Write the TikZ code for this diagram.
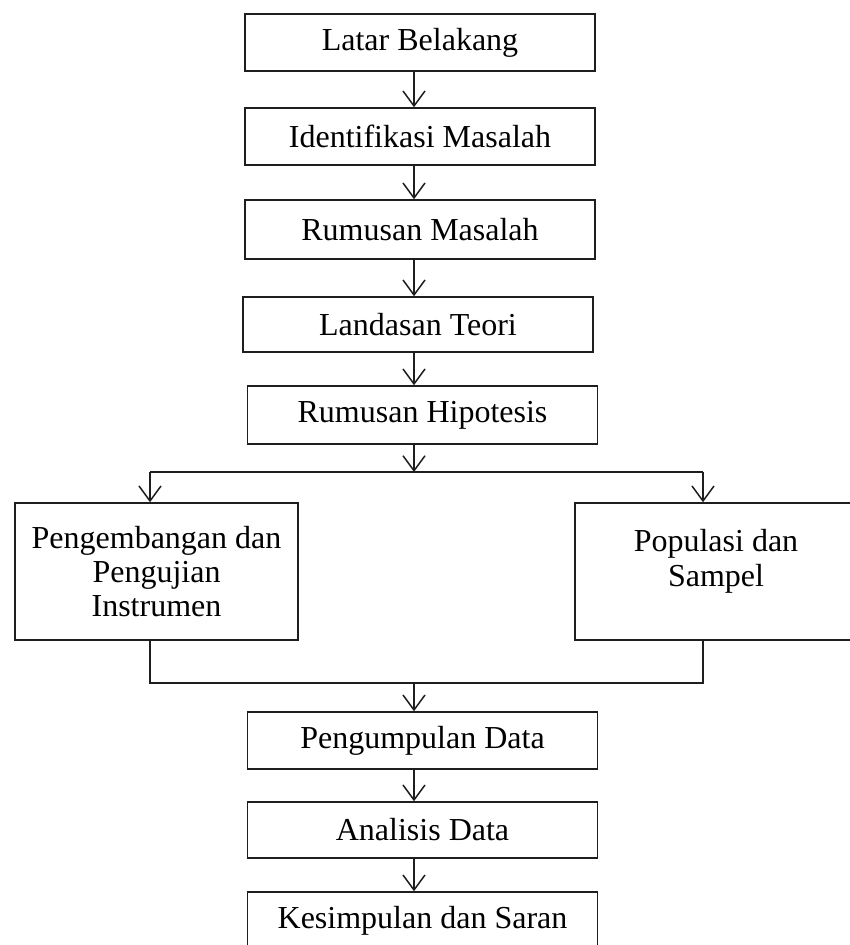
\documentclass[tikz,border=0pt]{standalone}
\usepackage{fontspec}
\setmainfont{Liberation Serif}
\usetikzlibrary{arrows.meta}
\definecolor{linec}{HTML}{1E1E1E}
\begin{document}
\begin{tikzpicture}[x=1pt,y=-1pt,
  box/.style={draw=linec, line width=1.5pt, minimum height=57pt, minimum width=350pt, inner sep=0pt, font=\fontsize{32}{34}\selectfont, align=center, text=black},
  txt/.style={inner sep=0pt, font=\fontsize{32}{35}\selectfont, align=center, text=black},
  arr/.style={draw=linec, line width=1.5pt, -{Straight Barb[length=15pt,width=22pt,line width=1.5pt]}},
  ln/.style={draw=linec, line width=1.5pt}]
\fill[white] (0,0) rectangle (850,945);
\useasboundingbox (0,0) rectangle (850,945);

\node[box] (b1) at (420,42.5) {Latar Belakang};
\node[box] (b2) at (420,136.5) {Identifikasi Masalah};
\node[box, minimum height=59pt] (b3) at (420,229.5) {Rumusan Masalah};
\node[box, minimum height=55pt] (b4) at (418,324.5) {Landasan Teori};
\node[box, minimum height=58pt] (b5) at (422.5,415) {Rumusan Hipotesis};
\node[box, minimum width=283pt, minimum height=137pt] (b6) at (156.5,571.5) {Pengembangan dan\\Pengujian\\Instrumen};
\node[box, minimum width=277pt, minimum height=137pt] (b7) at (713.5,571.5) {};
\node[txt] (b7t) at (716,561) {Populasi dan\\Sampel};
\node[box] (b8) at (422.5,740.5) {Pengumpulan Data};
\node[box, minimum height=56pt] (b9) at (422.5,830) {Analisis Data};
\node[box, minimum height=58pt] (b10) at (422.5,921) {Kesimpulan dan Saran};

\coordinate (ax) at (414,0);
\coordinate (bl) at (150,472);
\coordinate (brr) at (703,472);
\coordinate (ml) at (150,683);
\coordinate (mr) at (703,683);

\draw[arr] (b1.south -| ax) -- (b2.north -| ax);
\draw[arr] (b2.south -| ax) -- (b3.north -| ax);
\draw[arr] (b3.south -| ax) -- (b4.north -| ax);
\draw[arr] (b4.south -| ax) -- (b5.north -| ax);
\draw[arr] (b5.south -| ax) -- (ax |- bl);
\draw[ln] (bl) -- (brr);
\draw[arr] (bl) -- (bl |- b6.north);
\draw[arr] (brr) -- (brr |- b7.north);
\draw[ln] (b6.south -| ml) -- (ml) -- (mr) -- (b7.south -| mr);
\draw[arr] (ax |- ml) -- (b8.north -| ax);
\draw[arr] (b8.south -| ax) -- (b9.north -| ax);
\draw[arr] (b9.south -| ax) -- (b10.north -| ax);
\end{tikzpicture}
\end{document}
